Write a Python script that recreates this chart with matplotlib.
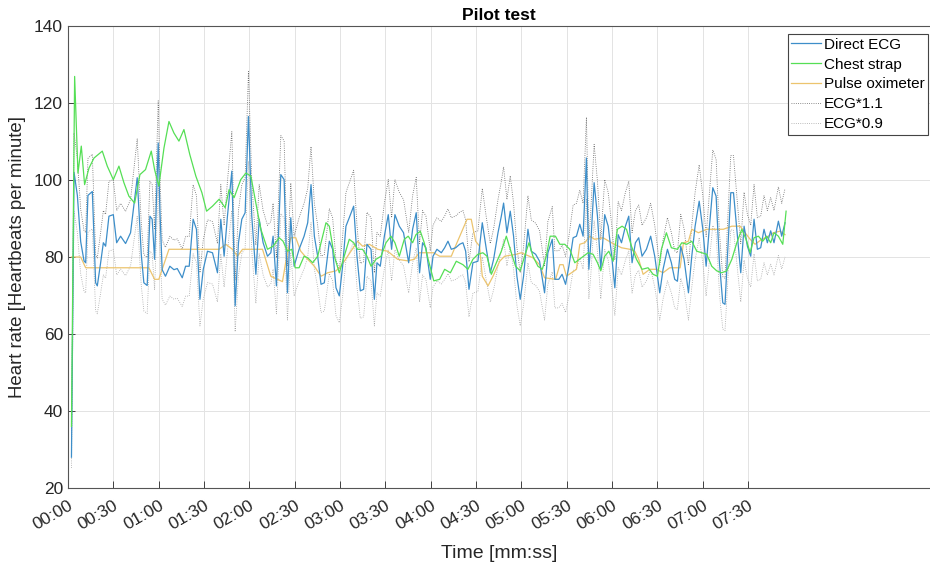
import numpy as np
import matplotlib
matplotlib.use('Agg')
import matplotlib.pyplot as plt

plt.rcParams['font.family'] = ['Liberation Sans', 'DejaVu Sans']

# Direct ECG heart rate (time in seconds, bpm)
ecg_time = [2.3, 4.0, 6.2, 8.4, 10.6, 11.7, 13.2, 16.1, 18.3, 19.4, 21.6, 23.4, 24.9, 27.1, 30.0,
            32.2, 34.8, 38.1, 41.4, 45.8, 48.5, 50.2, 52.4, 54.2, 55.7, 57.3, 59.7, 60.8, 62.3,
            64.5, 67.4, 70.1, 72.3, 75.6, 77.8,
            80.2, 82.8, 85.0, 87.3, 89.5, 92.3, 95.6, 98.9, 101.1, 103.3, 105.5, 108.4, 110.6,
            112.8, 115.0, 117.2, 119.4, 121.6, 124.3, 126.5, 129.1, 132.0, 134.2, 135.7, 137.9,
            140.8, 143.0, 145.2, 147.4, 149.6, 152.9, 156.2,
            158.6, 160.8, 163.0, 165.2, 167.4, 169.6, 172.9, 175.1, 177.3, 179.5, 181.7, 183.9,
            186.1, 189.0, 191.2, 193.4, 195.6, 197.8, 200.5, 202.7, 204.4, 206.6, 209.3, 211.9,
            214.1, 216.3, 219.2, 222.0, 225.4, 228.0, 230.4, 232.6, 234.6, 236.8, 239.7,
            241.5, 244.1, 247.0, 249.2, 251.4, 253.6, 256.5, 259.1, 261.3, 263.1, 265.3, 267.9,
            271.2, 274.1, 276.8, 279.4, 281.6, 284.5, 286.7, 288.2, 290.4, 292.6, 294.8, 297.0,
            299.2, 301.4, 304.3, 306.5, 309.4, 312.0, 315.3, 317.5, 320.4,
            322.1, 324.7, 326.9, 329.2, 331.4, 334.2, 336.4, 338.6, 340.8, 343.0, 344.6, 345.9,
            348.1, 350.3, 352.5, 355.1, 357.4, 359.6, 361.8, 364.0, 366.2, 368.8, 371.0, 373.2,
            375.4, 377.6, 379.8, 382.7, 385.5, 388.2, 391.5, 393.7, 396.6, 399.2, 401.4,
            403.2, 405.4, 407.6, 410.5, 412.7, 414.9, 417.6, 420.0, 422.2, 424.4, 426.6, 428.8,
            431.0, 433.2, 434.7, 436.3, 438.5, 440.3, 442.9, 445.1, 447.3, 449.5, 451.7, 453.9,
            456.1, 458.3, 460.5, 462.7, 464.9, 467.1, 470.0, 472.2, 474.4]
ecg_bpm = [28, 102, 96, 84, 79, 78.5, 96, 97, 73.3, 72.5, 78.5, 83.7, 82.8, 90.6, 91,
           83.7, 85.4, 83.5, 86.3, 100.6, 80.6, 73.3, 72.6, 90.6, 89.8, 79.4, 109.6, 92.4, 76.7,
           75, 77.6, 76.7, 77, 74.6, 77.6,
           77.6, 89.8, 87.2, 69, 76.8, 81.5, 81.1, 75.9, 89.8, 80.2, 90.6, 102.3, 67.3,
           83.7, 89.8, 91.5, 116.5, 90.6, 75.5, 89.8, 83.7, 80.2, 81.1, 85.4, 72.5,
           101.4, 100.1, 70.7, 90.2, 77.6, 82, 85.4,
           88.9, 98.8, 85.4, 80.2, 72.9, 73.3, 84.1, 82, 72, 69.9, 77.6, 88,
           90.2, 93.2, 80.2, 71.2, 71.6, 83.3, 82, 69, 78.5, 77.6, 85.4, 91,
           82, 91, 88, 86.3, 78.5, 87.2, 91.5, 75.9, 83.7, 82.4, 74.2,
           80.2, 82, 81.1, 82.4, 84.1, 82, 82.4, 83.3, 83.7, 81.5, 71.6, 78.5,
           78.9, 88.9, 82, 75.9, 79.4, 86.3, 90.6, 94, 86.3, 91.9, 85.4, 75,
           69, 75, 87.2, 81.5, 80.7, 78.9, 70.7, 81.1, 84.6,
           74.2, 74.2, 75.5, 72.9, 77.6, 85, 85.4, 88.5, 85.4, 105.7, 76.8, 83.7,
           99.3, 90.6, 76.8, 91, 88, 80.7, 72, 85.8, 83.7, 88, 90.6, 78.5,
           83.7, 85, 80.2, 82, 85.4, 80.2, 70.7, 76.8, 82, 78.5, 74.2,
           73.7, 82.8, 79.4, 70.7, 80.2, 88, 94.5, 87.2, 77.6, 88, 98, 95.8,
           78.5, 68.1, 67.7, 80.2, 96.7, 96.7, 85.4, 75.9, 88, 82.8, 80.2, 89.8,
           82, 82.4, 87.2, 83.7, 86.8, 83.7, 89.3, 85.4, 88.9]

# Chest strap
strap_time = [2.3, 4.4, 6.6, 8.8, 11.0, 13.9, 17.2, 22.7, 26.0, 30.0, 33.7, 37.0, 40.3, 44.1,
              47.6, 51.3, 55.1, 57.3, 60.1, 63.5, 66.8, 70.1, 73.4, 76.7,
              80.6, 84.6, 88.6, 91.7, 95.6, 100.0, 104.0, 106.6, 109.9, 114.3, 117.7, 121.0,
              124.3, 127.6, 132.0, 135.7, 139.7, 142.3, 145.2, 148.1, 150.3, 152.9, 156.2,
              158.6, 161.9, 165.2, 168.5, 170.7, 172.9, 176.2, 179.5, 182.8, 186.1, 189.0,
              191.6, 194.9, 197.8, 200.5, 203.8, 207.1, 210.4, 213.7, 216.3, 219.2, 222.5,
              225.1, 228.0, 230.2, 233.1, 235.7, 238.3,
              242.0, 245.9, 249.2, 253.0, 256.9, 261.3, 264.6, 267.9, 271.2, 274.5, 277.2,
              280.1, 283.4, 286.7, 290.0, 293.3, 296.1, 299.2, 302.1, 305.0, 307.6, 310.9,
              313.8, 316.4, 319.0,
              322.5, 325.4, 328.7, 332.0, 335.3, 339.7, 344.1, 347.4, 350.3, 352.5, 355.1,
              357.8, 360.7, 363.5, 366.6, 369.5, 372.8, 376.1, 379.8, 383.8, 387.1, 390.0,
              392.6, 395.9, 399.2,
              403.2, 406.1, 409.4, 412.7, 416.0, 419.3, 422.6, 425.9, 429.2, 432.5, 435.8,
              439.2, 442.5, 445.8, 448.6, 451.3, 453.9, 456.8, 459.6, 462.3, 464.9, 467.1,
              470.0, 472.9, 475.1]
strap_bpm = [36, 126.9, 101.8, 108.8, 98.8, 103.1, 105.7, 107.5, 103.6, 100.1, 103.6, 99.3, 95.8, 94,
             101.4, 102.7, 107.5, 102.7, 98.4, 108.3, 115.2, 112.2, 110.1, 113.1,
             106.6, 101, 96.7, 91.9, 93.2, 95, 92.8, 97.5, 95.4, 100.1, 101.8, 101,
             94, 87.2, 82, 82.8, 85, 84.1, 81.5, 82, 77.2, 77.2, 80.2,
             79.8, 78.5, 80.2, 85.4, 88.9, 88, 80.2, 75.9, 80.2, 84.6, 83.7,
             82, 82, 80.2, 77.6, 79.4, 80.2, 83.7, 85.4, 83.7, 80.2, 84.6,
             85.4, 83.7, 85.8, 86.7, 83.7, 79.4,
             73.8, 74.2, 76.8, 75.9, 78.9, 78, 76.8, 79.4, 80.7, 81.1, 80.2,
             75.5, 78.5, 81.5, 85.4, 81.1, 77.6, 76.4, 80.2, 83.7, 80.2, 77.6,
             76.8, 80.2, 85.4,
             85.4, 83.3, 83.3, 82, 78.5, 79.8, 81.1, 80.7, 78.5, 76.4, 80.2,
             81.5, 78.9, 87.2, 88, 87.2, 82.8, 79.4, 76.8, 77.2, 75.5, 75,
             82, 86.3, 82.4,
             82, 83.7, 83.3, 84.1, 81.5, 81.1, 80.7, 77.6, 76.4, 75.9, 76.4,
             79.4, 83.7, 87.2, 84.6, 81.1, 85, 85.4, 84.1, 85.4, 83.7, 86.3,
             85.4, 83.3, 91.9]

# Pulse oximeter
oxi_time = [2.3, 8.4, 11.7, 53.5, 57.3, 60.1, 66.8, 78.0, 100.0, 104.4, 108.8, 112.1, 115.5,
            128.7, 134.2, 141.9, 144.1, 147.4, 150.7, 154.0, 158.6, 163.0, 167.4, 171.8,
            177.3, 180.6, 185.0, 191.6, 194.9, 199.4, 204.9, 211.5, 218.1, 224.7, 229.1,
            232.4, 241.9, 245.9, 253.6, 256.9, 260.2, 264.0, 266.8, 269.7, 272.3, 274.1,
            277.9, 281.2, 285.6, 288.9, 296.6, 299.9, 307.6, 312.0, 315.3, 322.6, 325.4,
            327.6, 329.8, 333.1, 336.4, 338.6, 341.9, 345.2, 348.5, 354.0, 359.6, 366.2,
            371.7, 375.0, 377.6, 380.5, 384.9, 389.3, 393.7, 398.1, 405.0, 407.2, 410.5,
            412.7, 417.1, 422.6, 433.6, 439.2, 444.7, 448.0, 451.3, 454.6, 459.0, 463.4,
            466.7, 471.1, 474.4]
oxi_bpm = [80, 80, 77.2, 77.2, 74.2, 74.2, 82, 82, 82, 83.3, 82, 80.2, 82,
           82, 75, 73.6, 78.7, 85, 85, 81.5, 79.4, 77.6, 75, 75.9,
           76.4, 77.6, 80.2, 84.1, 82.8, 83.3, 82, 81.5, 79.4, 79, 79.4,
           81.1, 81.1, 80.2, 80.2, 83.3, 86.3, 89.8, 89.8, 84.1, 82.8, 75,
           72.5, 75, 78.9, 80.2, 80.7, 81.1, 79.8, 78, 74.6, 74.2, 78,
           78, 75, 75.9, 76.8, 83.3, 83.7, 85.4, 84.6, 85, 83.7, 82.4,
           82, 81.5, 79.4, 75.5, 76.8, 76.8, 75.9, 77.2, 77.2, 83.7, 84.1,
           87.2, 86.3, 87.2, 87.2, 88, 88, 86.3, 84.6, 83.3, 84.6, 85.4,
           86.3, 86.7, 85.8]

tick_sec = [0, 30, 60, 90, 120, 150, 180, 210, 240, 270, 300, 330, 360, 390, 420, 450]
tick_labels = ['00:00', '00:30', '01:00', '01:30', '02:00', '02:30', '03:00', '03:30',
               '04:00', '04:30', '05:00', '05:30', '06:00', '06:30', '07:00', '07:30']

ecg = np.array(ecg_bpm)

fig = plt.figure(figsize=(9.3, 5.65), dpi=100)
ax = fig.add_axes([0.0731, 0.1363, 0.9264, 0.8177])

ax.plot(ecg_time, ecg, color='#3d8ec9', lw=0.9, label='Direct ECG', zorder=3)
ax.plot(strap_time, strap_bpm, color='#55df55', lw=0.9, label='Chest strap', zorder=4)
ax.plot(oxi_time, oxi_bpm, color='#ecc46e', lw=0.9, label='Pulse oximeter', zorder=2)
ax.plot(ecg_time, ecg * 1.1, color='#666666', lw=0.6, ls=':', label='ECG*1.1', zorder=1)
ax.plot(ecg_time, ecg * 0.9, color='#a5a5a5', lw=0.6, ls=':', label='ECG*0.9', zorder=1)

ax.set_xlim(0, 570)
ax.set_ylim(20, 140)
ax.set_xticks(tick_sec)
ax.set_xticklabels(tick_labels, rotation=30, ha='right', rotation_mode='anchor')
ax.set_yticks(range(20, 141, 20))
ax.tick_params(direction='in', length=5, labelsize=12.5, colors='#262626', width=0.6)
ax.tick_params(axis='x', pad=7)
ax.grid(True, color='#e3e3e3', lw=0.7)
ax.set_axisbelow(True)
for s in ax.spines.values():
    s.set_color('#555555')
    s.set_linewidth(0.8)
ax.spines['right'].set_visible(False)

ax.set_xlabel('Time [mm:ss]', fontsize=14, color='#262626', labelpad=9)
ax.set_ylabel('Heart rate [Heartbeats per minute]', fontsize=13.4, color='#262626', labelpad=6)
ax.set_title('Pilot test', fontsize=12.5, fontweight='bold', pad=4)

leg = ax.legend(loc='upper right', bbox_to_anchor=(0.998, 0.94), bbox_transform=fig.transFigure,
                fontsize=11, fancybox=False, framealpha=1, edgecolor='#444444',
                handlelength=1.9, handletextpad=0.2, borderpad=0.25, labelspacing=0.38,
                borderaxespad=0)
leg.get_frame().set_linewidth(0.8)

fig.savefig('out.png', dpi=100)
